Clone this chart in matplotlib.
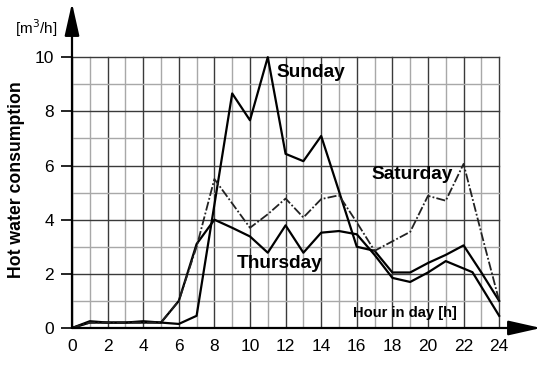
import numpy as np
import matplotlib
matplotlib.use('Agg')
import matplotlib.pyplot as plt

plt.rcParams['font.family'] = ['Liberation Sans', 'DejaVu Sans']

# data
hours = list(range(25))
sunday = [0, 0.25, 0.2, 0.2, 0.25, 0.2, 0.15, 0.45, 4.55, 8.66, 7.67, 10.0, 6.43,
          6.16, 7.09, 5.05, 3.0, 2.85, 2.05, 2.05, 2.4, 2.7, 3.05, 2.05, 1.0]
saturday = [0, 0.2, 0.2, 0.2, 0.2, 0.2, 1.0, 3.0, 5.5, 4.6, 3.7, 4.2, 4.78,
            4.08, 4.76, 4.9, 3.9, 2.85, 3.2, 3.55, 4.88, 4.7, 6.06, 3.5, 1.0]
thursday_hours = list(range(22)) + [22.5, 24]
thursday = [0, 0.2, 0.2, 0.2, 0.2, 0.2, 1.0, 3.1, 4.0, 3.7, 3.38, 2.78, 3.79,
            2.78, 3.52, 3.58, 3.46, 2.7, 1.85, 1.7, 2.05, 2.47, 2.06, 0.45]
xticks = list(range(0, 25, 2))
yticks = list(range(0, 11, 2))

fig = plt.figure(figsize=(5.5, 3.65), dpi=100)
ax = fig.add_axes([72 / 550, 1 - 328 / 365, 469 / 550, 325 / 365])
ax.set_xlim(0, 26.35)
ax.set_ylim(0, 12.0)

# grid
for h in range(25):
    c = '#3a3a3a' if h % 2 == 0 else '#a8a8a8'
    ax.plot([h, h], [0, 10], color=c, lw=1.0, zorder=1)
for v in range(11):
    c = '#3a3a3a' if v % 2 == 0 else '#a8a8a8'
    ax.plot([0, 24], [v, v], color=c, lw=1.0, zorder=1)

# series
ax.plot(hours, sunday, color='black', lw=1.6, zorder=3)
ax.plot(thursday_hours, thursday, color='black', lw=1.6, zorder=3)
ax.plot(hours, saturday, color='#222222', lw=1.3,
        linestyle=(0, (5, 1.2, 1, 1.2)), zorder=3)

# axes with arrows
for s in ax.spines.values():
    s.set_visible(False)
arrow = dict(arrowstyle='-|>,head_length=2.0,head_width=0.45', lw=1.6,
             color='black', mutation_scale=10, shrinkA=0, shrinkB=0)
ax.annotate('', xy=(0, 12.0), xytext=(0, 0), arrowprops=arrow,
            annotation_clip=False, zorder=4)
ax.annotate('', xy=(26.35, 0), xytext=(0, 0), arrowprops=arrow,
            annotation_clip=False, zorder=4)

ax.set_xticks(xticks)
ax.set_yticks(yticks)
ax.tick_params(axis='x', length=0, pad=8, labelsize=12.5)
ax.tick_params(axis='y', length=8, width=1.2, pad=5, labelsize=12.5)

# labels
ax.text(11.5, 9.45, 'Sunday', fontsize=13.8, fontweight='bold', va='center')
ax.text(16.85, 5.65, 'Saturday', fontsize=13.8, fontweight='bold', va='center')
ax.text(9.25, 2.4, 'Thursday', fontsize=13.8, fontweight='bold', va='center')
ax.text(15.8, 0.55, 'Hour in day [h]', fontsize=10.6, fontweight='bold',
        va='center')
fig.text(17 / 550, 1 - 180 / 365, 'Hot water consumption', rotation=90,
         fontsize=12.7, fontweight='bold', ha='center', va='center')
fig.text(36 / 550, 1 - 28 / 365, '[m$^3$/h]', fontsize=11, ha='center',
         va='center')

fig.savefig('out.png', dpi=100)
